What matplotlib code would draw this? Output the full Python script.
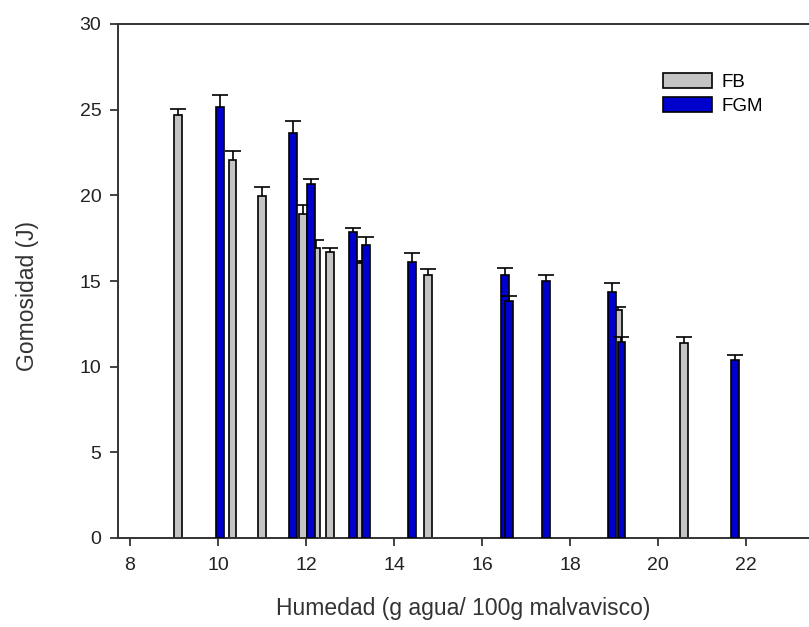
import matplotlib
matplotlib.use("Agg")
import matplotlib.pyplot as plt
import numpy as np

# Moisture content (g water / 100 g marshmallow) and gumminess (J) per formulation
fb_x = [9.10, 10.33, 10.99, 11.93, 12.22, 12.55, 13.22, 14.78, 19.10, 20.59]
fb_y = [24.68, 22.07, 19.96, 18.93, 16.92, 16.71, 16.05, 15.36, 13.30, 11.38]
fb_err = [0.38, 0.50, 0.55, 0.50, 0.49, 0.23, 0.10, 0.33, 0.17, 0.36]

fgm_x = [10.05, 11.71, 12.12, 13.07, 13.36, 14.41, 16.52, 16.62, 17.46, 18.95, 19.17, 21.74]
fgm_y = [25.13, 23.66, 20.68, 17.86, 17.10, 16.12, 15.36, 13.82, 14.99, 14.38, 11.42, 10.41]
fgm_err = [0.72, 0.66, 0.26, 0.21, 0.46, 0.49, 0.39, 0.33, 0.37, 0.51, 0.34, 0.25]

x_ticks = [8, 10, 12, 14, 16, 18, 20, 22]
y_ticks = [0, 5, 10, 15, 20, 25, 30]

plt.rcParams["font.family"] = ["Liberation Sans", "DejaVu Sans"]

fig = plt.figure(figsize=(8.09, 6.27), dpi=100)
ax = fig.add_axes([118 / 809, 89 / 627, 1 - 118 / 809, (538 - 24) / 627])

bar_w = 0.18
gray = "#c4c4c4"
blue = "#0000cc"


def upper_errorbars(x, y, err, z):
    """One-sided (upward) error bars with a cap only at the top."""
    _, caps, _ = ax.errorbar(x, y, yerr=[np.zeros(len(err)), err], fmt="none",
                             ecolor="black", elinewidth=1.2, capsize=6,
                             capthick=1.2, zorder=z)
    if len(caps) == 2:
        caps[0].set_visible(False)


ax.bar(fb_x, fb_y, width=bar_w, color=gray, edgecolor="black", linewidth=1.2,
       label="FB", zorder=2)
upper_errorbars(fb_x, fb_y, fb_err, 3)

ax.bar(fgm_x, fgm_y, width=bar_w, color=blue, edgecolor="black", linewidth=1.2,
       label="FGM", zorder=4)
upper_errorbars(fgm_x, fgm_y, fgm_err, 5)

ax.set_xlim(8 - 12 / 44, 8 + (809 - 130) / 44)
ax.set_ylim(0, 30)
ax.set_xticks(x_ticks)
ax.set_yticks(y_ticks)
ax.tick_params(direction="out", length=6, width=1.2, labelsize=14, colors="#222222")
ax.tick_params(axis="x", pad=8)
ax.tick_params(axis="y", pad=6)
for side in ("left", "bottom", "top"):
    ax.spines[side].set_linewidth(1.4)
    ax.spines[side].set_color("#333333")
ax.spines["right"].set_visible(False)

ax.set_xlabel("Humedad (g agua/ 100g malvavisco)", fontsize=16.5, color="#333333", labelpad=16)
ax.set_ylabel("Gomosidad (J)", fontsize=16.5, color="#333333")
ax.yaxis.set_label_coords(-0.115, 0.47)

leg = ax.legend(loc="upper left", bbox_to_anchor=(0.765, 0.937), frameon=False,
                fontsize=13.5, handlelength=2.6, handleheight=0.85, handletextpad=0.5,
                labelspacing=0.3)

fig.savefig("out.png", dpi=100)
